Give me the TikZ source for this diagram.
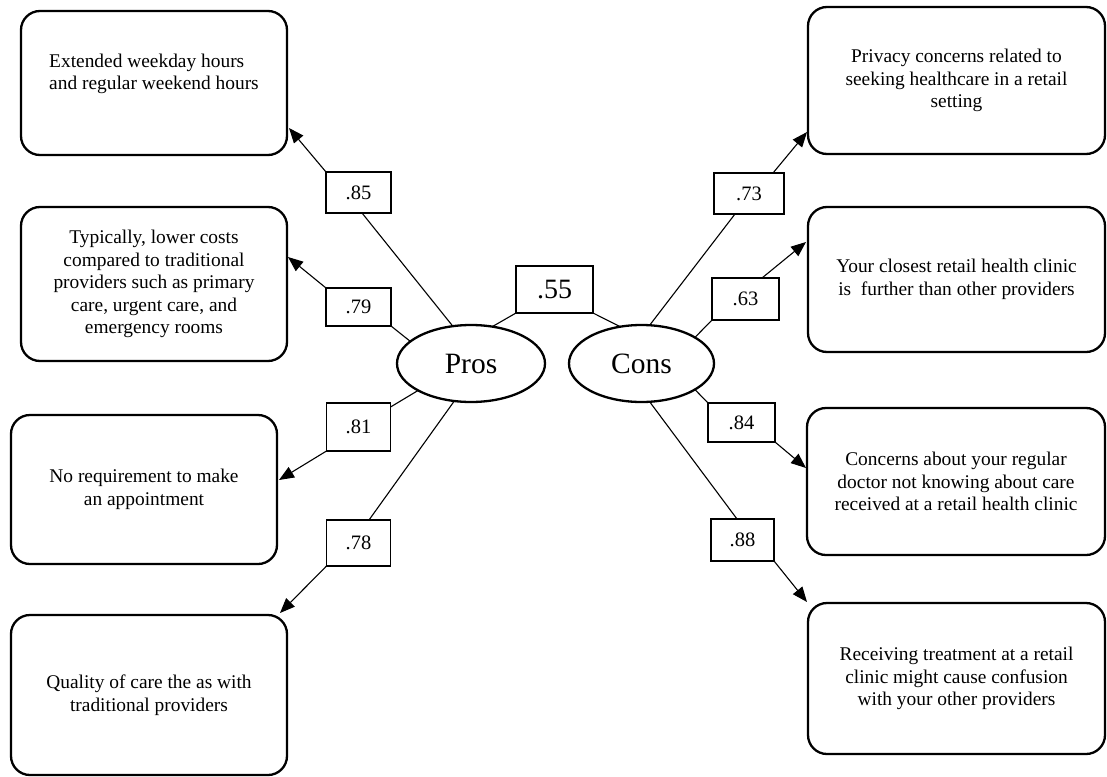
\documentclass[tikz,border=0pt]{standalone}
\usepackage{fontspec}
\setmainfont{Liberation Serif}
\usetikzlibrary{arrows.meta,calc,shapes.geometric}
\begin{document}
\begin{tikzpicture}[x=1pt,y=-1pt,
  item/.style={draw, rounded corners=19pt, line width=2.3pt, inner sep=0pt, outer sep=0pt,
    align=center, font=\fontsize{19.4}{22.5}\selectfont},
  coef/.style={draw, fill=white, line width=1.1pt, inner sep=0pt, outer sep=0pt,
    font=\fontsize{20.5}{22}\selectfont},
  latent/.style={draw, ellipse, line width=2.3pt, inner sep=0pt, outer sep=0pt,
    minimum height=77pt, font=\fontsize{29.5}{31}\selectfont},
  conn/.style={line width=1.1pt},
  arr/.style={conn, -{Triangle[length=15pt,width=12pt]}}]
\useasboundingbox (0,0) rectangle (1107,776);

% indicator boxes
\node[item, align=left, minimum width=266pt, minimum height=144pt] (b1) at (154,83)
  {Extended weekday hours\\and regular weekend hours\\~};
\node[item, minimum width=266pt, minimum height=154pt] (b2) at (154,284)
  {Typically, lower costs\\compared to traditional\\providers such as primary\\care, urgent care, and\\emergency rooms};
\node[item, minimum width=266pt, minimum height=149pt] (b3) at (144,489.5)
  {No requirement to make\\an appointment};
\node[item, minimum width=276pt, minimum height=160pt] (b4) at (149,695)
  {Quality of care the as with\\traditional providers};
\node[item, minimum width=297pt, minimum height=147pt] (r1) at (956.5,80.5)
  {Privacy concerns related to\\seeking healthcare in a retail\\setting};
\node[item, minimum width=297pt, minimum height=145pt] (r2) at (956.5,279.5)
  {Your closest retail health clinic\\is~ further than other providers};
\node[item, minimum width=298pt, minimum height=147pt] (r3) at (956,481.5)
  {Concerns about your regular\\doctor not knowing about care\\received at a retail health clinic};
\node[item, minimum width=297pt, minimum height=151pt] (r4) at (956.5,678.5)
  {Receiving treatment at a retail\\clinic might cause confusion\\with your other providers};

% latent variables
\node[latent, minimum width=148pt] (pros) at (471,363.5) {Pros};
\node[latent, minimum width=145pt] (cons) at (641.5,363.5) {Cons};

% coefficient boxes
\node[coef, minimum width=65pt, minimum height=41pt] (l85) at (358.5,192.5) {.85};
\node[coef, minimum width=65pt, minimum height=38pt] (l79) at (358.5,307) {.79};
\node[coef, minimum width=64pt, minimum height=48pt] (l81) at (358.5,427) {.81};
\node[coef, minimum width=64pt, minimum height=46pt] (l78) at (358.5,543) {.78};
\node[coef, minimum width=77pt, minimum height=47pt, font=\fontsize{28}{30}\selectfont] (l55) at (554.5,289.5) {.55};
\node[coef, minimum width=70pt, minimum height=41pt] (l73) at (749,193.5) {.73};
\node[coef, minimum width=67pt, minimum height=42pt] (l63) at (745.5,299) {.63};
\node[coef, minimum width=67pt, minimum height=39pt] (l84) at (741.5,422.5) {.84};
\node[coef, minimum width=63pt, minimum height=42pt] (l88) at (742.5,540) {.88};

% connectors
\draw[conn] (pros.116) -- ($(l85.south)+(3.5,0)$);
\draw[arr] (l85.north west) -- ($(b1.east)+(2,45)$);
\draw[conn] (pros.160) -- (l79.south east);
\draw[arr] (l79.north west) -- ($(b2.east)+(1,-27)$);
\draw[conn] (pros.207) -- ($(l81.north east)+(0,4)$);
\draw[arr] (l81.south west) -- ($(b3.east)+(2,-9.5)$);
\draw[conn] (pros.246) -- ($(l78.north)+(10.5,0)$);
\draw[arr] (l78.south west) -- ($(b4.north east)+(-7,-2)$);
\draw[conn] (pros.60) -- (l55.south west);
\draw[conn] (l55.south east) -- (cons.120);
\draw[conn] (cons.78) -- ($(l73.south)+(-14,0)$);
\draw[arr] ($(l73.north)+(24,0)$) -- ($(r1.west)+(-1,51.5)$);
\draw[conn] (cons.26) -- (l63.south west);
\draw[arr] ($(l63.north)+(16.5,0)$) -- ($(r2.west)+(-2,-37.5)$);
\draw[conn] (cons.334) -- (l84.north west);
\draw[arr] (l84.south east) -- ($(r3.west)+(-1,-13.5)$);
\draw[conn] (cons.282) -- ($(l88.north)+(-5.5,0)$);
\draw[arr] (l88.south east) -- ($(r4.north west)+(-1,-1)$);
\end{tikzpicture}
\end{document}
